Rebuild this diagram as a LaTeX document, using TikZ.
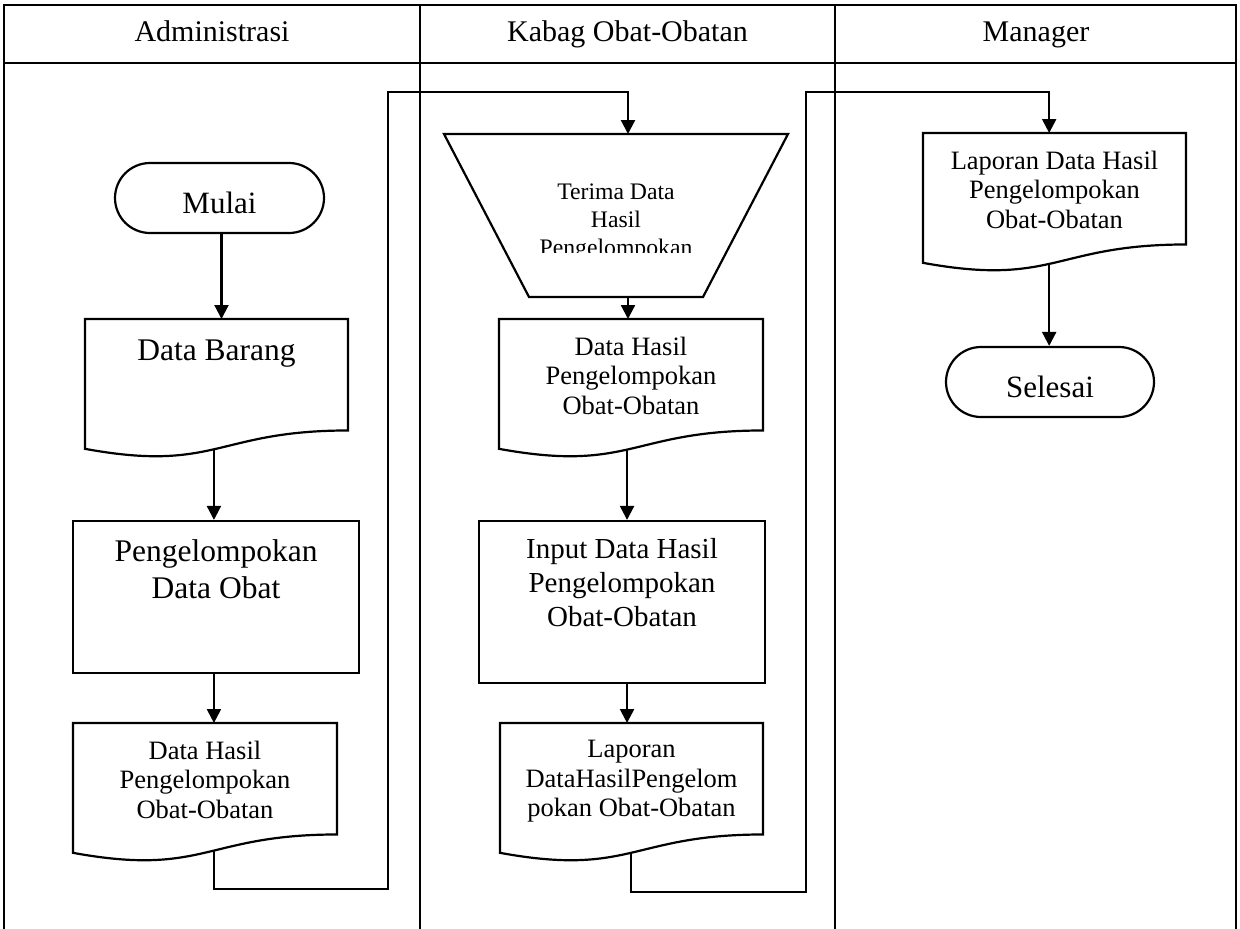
\documentclass[tikz,border=0pt]{standalone}
\usepackage{fontspec}
\setmainfont{Liberation Serif}
\usetikzlibrary{calc,arrows.meta}

% Flowchart "document" symbol: straight top and sides, wavy bottom edge.
% #1 = frame node, #2 = curve parameter where the outgoing connector leaves.
\newcommand\docoutline[2]{%
  \draw[shapeline] (#1.north west) -- (#1.north east)
    -- ($(#1.north east)!0.802!(#1.south east)$)
    .. controls ($(#1.north)!0.802!(#1.south)$) and ($(#1.north)!1.1075!(#1.south)$)
    .. ($(#1.north west)!0.934!(#1.south west)$) coordinate[pos=#2] (#1-out)
    -- cycle;}

\begin{document}
\begin{tikzpicture}[x=1pt,y=-1pt,
  lane/.style={line width=1.8pt},
  shapeline/.style={line width=2.2pt, line join=miter},
  arr/.style={line width=2.2pt, -{Triangle[length=14pt,width=14pt]}},
  boxframe/.style={inner sep=0pt, outer sep=0pt},
  docframe/.style={boxframe, minimum width=263pt, minimum height=139pt},
  terminal/.style={draw, line width=2.2pt, rounded corners=35pt, minimum width=209pt,
    minimum height=70pt, inner sep=0pt, text height=30.5pt, text depth=0pt, ftterm},
  process/.style={draw, line width=2.2pt, minimum width=286pt, inner sep=0pt},
  txt/.style={inner sep=0pt, outer sep=0pt, align=center},
  fthead/.style={font=\fontsize{30}{36}\selectfont},
  ftterm/.style={font=\fontsize{31}{37}\selectfont},
  ftbig/.style={font=\fontsize{31.5}{37.5}\selectfont},
  ftmid/.style={font=\fontsize{29}{34}\selectfont},
  ftsmall/.style={font=\fontsize{26.5}{29.5}\selectfont},
  fttrap/.style={font=\fontsize{23.7}{28}\selectfont},
]
\useasboundingbox (0,0) rectangle (1240,929);

% swimlane table
\draw[lane] (4,929) -- (4,5) -- (1236,5) -- (1236,929);
\draw[lane] (4,63) -- (1236,63);
\draw[lane] (420,5) -- (420,929);
\draw[lane] (835,5) -- (835,929);
\node[txt, fthead, anchor=base] (head-adm) at (212,41) {Administrasi};
\node[txt, fthead, anchor=base] (head-kab) at (627.5,41) {Kabag Obat-Obatan};
\node[txt, fthead, anchor=base] (head-man) at (1036,41) {Manager};

% Administrasi
\node[terminal] (mulai) at (219.5,198) {Mulai};
\node[docframe] (barang) at (216.5,388.5) {};
\docoutline{barang}{0.513}
\node[txt, ftbig, anchor=north] (barang-t) at (216.5,340) {Data Barang};
\node[process, minimum height=152pt] (kelompok) at (216,597) {};
\node[txt, ftbig, anchor=north] (kelompok-t) at (216,539.3) {Pengelompokan\\Data Obat};
\node[docframe, minimum width=264pt] (hasilA) at (205,792.5) {};
\docoutline{hasilA}{0.455}
\node[txt, ftsmall, anchor=north] (hasilA-t) at (205,741) {Data Hasil\\Pengelompokan\\Obat-Obatan};

% Kabag Obat-Obatan
\node[boxframe, minimum width=344pt, minimum height=163pt] (terima) at (616,215.5) {};
\draw[shapeline] (terima.north west) -- (terima.north east)
  -- ($(terima.south east)+(-85,0)$) -- ($(terima.south west)+(85,0)$) -- cycle;
\begin{scope}
  \clip (440,130) rectangle (790,252.5);
  \node[txt, fttrap, anchor=north] (terima-t) at (616,184) {Terima Data\\Hasil\\Pengelompokan};
\end{scope}
\node[docframe, minimum width=264pt] (hasilB) at (631,388.5) {};
\docoutline{hasilB}{0.52}
\node[txt, ftsmall, anchor=north] (hasilB-t) at (631,337) {Data Hasil\\Pengelompokan\\Obat-Obatan};
\node[process, minimum height=162pt] (input) at (622,602) {};
\node[txt, ftmid, anchor=north] (input-t) at (622,538.5) {Input Data Hasil\\Pengelompokan\\Obat-Obatan};
\node[docframe] (lapB) at (631.5,792.5) {};
\docoutline{lapB}{0.502}
\node[txt, ftsmall, anchor=north] (lapB-t) at (631.5,740.5) {Laporan\\DataHasilPengelom\\pokan Obat-Obatan};

% Manager
\node[docframe] (lapC) at (1054.5,202.5) {};
\docoutline{lapC}{0.527}
\node[txt, ftsmall, anchor=north] (lapC-t) at (1054.5,151) {Laporan Data Hasil\\Pengelompokan\\Obat-Obatan};
\node[terminal, minimum width=208pt] (selesai) at (1050,382) {Selesai};

% connectors
\draw[arr] ([xshift=2pt]mulai.south) -- ([xshift=2pt]mulai.south |- barang.north);
\draw[arr] (barang-out) -- (barang-out |- kelompok.north);
\draw[arr] (kelompok.south -| barang-out) -- (hasilA.north -| barang-out);
\coordinate (lowA) at (388,889);
\coordinate (topA) at (388,92);
\coordinate (terima-in) at ($(terima.north)+(12,0)$);
\draw[arr] (hasilA-out) |- (lowA) -- (topA) -| (terima-in);
\draw[arr] (terima.south -| terima-in) -- (hasilB.north -| terima-in);
\draw[arr] (hasilB-out) -- (hasilB-out |- input.north);
\draw[arr] (input.south -| hasilB-out) -- (lapB.north -| hasilB-out);
\coordinate (lowB) at (806,892);
\coordinate (topB) at (806,92);
\draw[arr] (lapB-out) |- (lowB) -- (topB) -| (lapC-out |- lapC.north);
\draw[arr] (lapC-out) -- (lapC-out |- selesai.north);
\end{tikzpicture}
\end{document}
